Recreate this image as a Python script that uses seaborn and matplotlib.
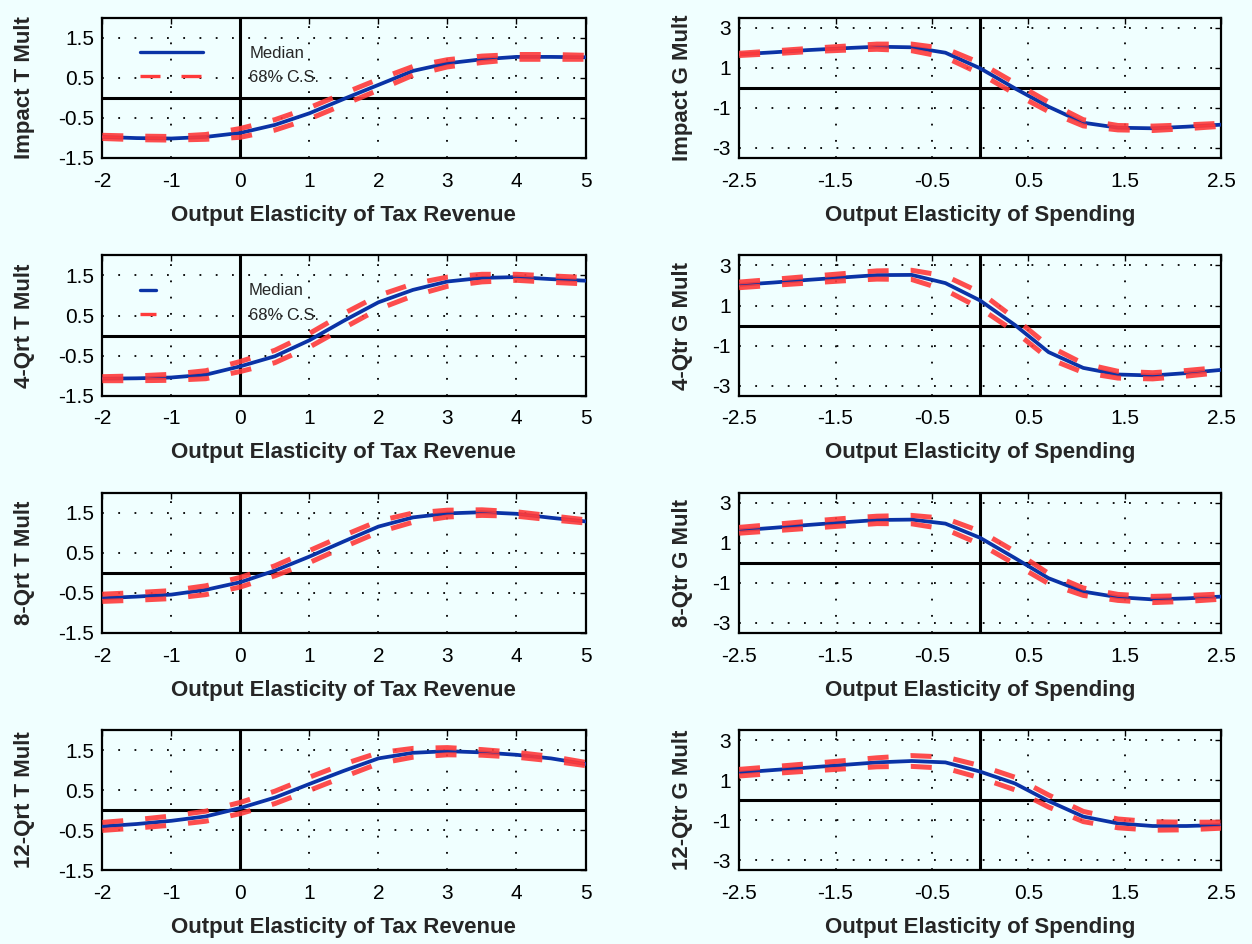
import numpy as np
import pandas as pd
import matplotlib
matplotlib.use("Agg")
import matplotlib.pyplot as plt
import seaborn as sns
from matplotlib.lines import Line2D

# ---------------- data ----------------
tax_elast = [-2.0, -1.5, -1.0, -0.5, 0.0, 0.5, 1.0, 1.5, 2.0, 2.5, 3.0, 3.5, 4.0, 4.5, 5.0]
spend_elast = [-2.5, -2.14, -1.79, -1.43, -1.07, -0.71, -0.36, 0.0, 0.36, 0.71, 1.07, 1.43, 1.79, 2.14, 2.5]

t_impact_med = [-0.98, -1.01, -1.02, -0.98, -0.88, -0.68, -0.39, -0.03, 0.32, 0.67, 0.86, 0.96, 1.02, 1.02, 1.01]
t_impact_up = [-0.94, -0.96, -0.97, -0.92, -0.77, -0.55, -0.25, 0.11, 0.46, 0.78, 0.95, 1.04, 1.08, 1.08, 1.06]
t_impact_lo = [-1.02, -1.05, -1.06, -1.04, -0.99, -0.81, -0.53, -0.17, 0.19, 0.56, 0.77, 0.88, 0.96, 0.96, 0.96]

t_4q_med = [-1.08, -1.07, -1.05, -0.98, -0.77, -0.52, -0.12, 0.37, 0.83, 1.14, 1.35, 1.44, 1.46, 1.41, 1.37]
t_4q_up = [-1.03, -1.01, -0.97, -0.88, -0.65, -0.37, 0.05, 0.55, 1.00, 1.29, 1.46, 1.53, 1.53, 1.49, 1.45]
t_4q_lo = [-1.13, -1.13, -1.12, -1.08, -0.90, -0.68, -0.29, 0.19, 0.66, 0.99, 1.23, 1.34, 1.38, 1.33, 1.29]

t_8q_med = [-0.63, -0.59, -0.54, -0.42, -0.23, 0.06, 0.41, 0.79, 1.16, 1.39, 1.49, 1.52, 1.48, 1.38, 1.29]
t_8q_up = [-0.53, -0.49, -0.44, -0.32, -0.11, 0.18, 0.56, 0.94, 1.30, 1.50, 1.57, 1.58, 1.53, 1.43, 1.33]
t_8q_lo = [-0.71, -0.68, -0.64, -0.54, -0.35, -0.07, 0.26, 0.65, 1.02, 1.27, 1.40, 1.44, 1.42, 1.33, 1.25]

t_12q_med = [-0.41, -0.35, -0.27, -0.16, 0.05, 0.31, 0.65, 0.98, 1.29, 1.43, 1.47, 1.44, 1.38, 1.29, 1.15]
t_12q_up = [-0.31, -0.24, -0.15, -0.03, 0.19, 0.47, 0.82, 1.15, 1.43, 1.54, 1.56, 1.51, 1.44, 1.34, 1.19]
t_12q_lo = [-0.51, -0.45, -0.38, -0.28, -0.09, 0.16, 0.49, 0.83, 1.16, 1.32, 1.38, 1.37, 1.32, 1.23, 1.11]

g_impact_med = [1.67, 1.77, 1.88, 1.97, 2.05, 2.02, 1.75, 0.97, -0.03, -0.95, -1.75, -2.00, -2.03, -1.95, -1.85]
g_impact_up = [1.72, 1.84, 1.96, 2.07, 2.18, 2.18, 1.96, 1.24, 0.24, -0.72, -1.60, -1.89, -1.92, -1.86, -1.78]
g_impact_lo = [1.61, 1.70, 1.80, 1.87, 1.92, 1.85, 1.52, 0.70, -0.30, -1.19, -1.91, -2.11, -2.14, -2.05, -1.93]

g_4q_med = [2.03, 2.15, 2.28, 2.40, 2.52, 2.53, 2.12, 1.25, 0.03, -1.33, -2.12, -2.45, -2.50, -2.38, -2.22]
g_4q_up = [2.17, 2.31, 2.45, 2.59, 2.73, 2.76, 2.48, 1.66, 0.36, -1.02, -1.90, -2.29, -2.36, -2.25, -2.09]
g_4q_lo = [1.89, 2.01, 2.12, 2.23, 2.32, 2.30, 1.77, 0.86, -0.30, -1.65, -2.35, -2.63, -2.67, -2.53, -2.35]

g_8q_med = [1.63, 1.76, 1.90, 2.03, 2.15, 2.17, 1.97, 1.26, 0.25, -0.76, -1.43, -1.71, -1.82, -1.77, -1.68]
g_8q_up = [1.78, 1.93, 2.08, 2.22, 2.34, 2.38, 2.23, 1.59, 0.58, -0.52, -1.25, -1.57, -1.67, -1.63, -1.55]
g_8q_lo = [1.49, 1.61, 1.73, 1.85, 1.97, 1.96, 1.69, 0.94, -0.05, -1.03, -1.62, -1.87, -1.98, -1.92, -1.81]

g_12q_med = [1.37, 1.50, 1.62, 1.75, 1.88, 1.95, 1.88, 1.42, 0.83, -0.05, -0.83, -1.17, -1.30, -1.30, -1.25]
g_12q_up = [1.53, 1.67, 1.81, 1.96, 2.11, 2.22, 2.15, 1.72, 1.14, 0.25, -0.57, -0.95, -1.09, -1.11, -1.11]
g_12q_lo = [1.20, 1.33, 1.44, 1.55, 1.66, 1.68, 1.59, 1.11, 0.51, -0.35, -1.08, -1.39, -1.51, -1.49, -1.41]

t_ylabels = ["Impact T Mult", "4-Qrt T Mult", "8-Qrt T Mult", "12-Qrt T Mult"]
g_ylabels = ["Impact G Mult", "4-Qtr G Mult", "8-Qtr G Mult", "12-Qtr G Mult"]
t_xlabel = "Output Elasticity of Tax Revenue"
g_xlabel = "Output Elasticity of Spending"
legend_labels = ["Median", "68% C.S."]

t_xticks = [-2, -1, 0, 1, 2, 3, 4, 5]
t_yticks = [-1.5, -0.5, 0.5, 1.5]
g_xticks = [-2.5, -1.5, -0.5, 0.5, 1.5, 2.5]
g_yticks = [-3, -1, 1, 3]

t_series = [(t_impact_med, t_impact_up, t_impact_lo), (t_4q_med, t_4q_up, t_4q_lo),
            (t_8q_med, t_8q_up, t_8q_lo), (t_12q_med, t_12q_up, t_12q_lo)]
g_series = [(g_impact_med, g_impact_up, g_impact_lo), (g_4q_med, g_4q_up, g_4q_lo),
            (g_8q_med, g_8q_up, g_8q_lo), (g_12q_med, g_12q_up, g_12q_lo)]

# ---------------- style ----------------
sns.set_style("white")
plt.rcParams['font.family'] = ['Liberation Sans', 'DejaVu Sans']
BG = "#F0FFFF"
BLUE = "#0A33A6"
RED = "#FF3A3A"

W, H = 1252, 944
fig = plt.figure(figsize=(W / 100, H / 100), dpi=100, facecolor=BG)

row_bottoms = [157.7, 395.5, 633.0, 870.0]
ax_h = 140.0
left_x, left_w = 102.3, 483.2
right_x, right_w = 739.1, 482.0

GRID_LS = (0, (1, 8))
RED_DASH = (0, (4.2, 4.4))


def style_axes(ax, xlim, ylim, xticks, yticks, xticklabels, yticklabels, xlabel, ylabel, ylab_off):
    ax.set_facecolor(BG)
    ax.set_xlim(*xlim)
    ax.set_ylim(*ylim)
    ax.set_xticks(xticks)
    ax.set_yticks(yticks)
    ax.set_xticklabels(xticklabels)
    ax.set_yticklabels(yticklabels)
    ax.grid(True, color="black", linestyle=GRID_LS, linewidth=1.3)
    ax.tick_params(direction="in", length=4, width=1, top=True, right=True,
                   labelsize=15, colors="black")
    ax.tick_params(axis="x", pad=10)
    ax.tick_params(axis="y", pad=6)
    for sp in ax.spines.values():
        sp.set_visible(True)
        sp.set_color("black")
        sp.set_linewidth(1.6)
    ax.axhline(0, color="black", lw=2.2, zorder=1.5)
    ax.axvline(0, color="black", lw=2.2, zorder=1.5)
    ax.set_xlabel(xlabel, fontsize=16, fontweight="bold", va="center")
    ax.set_ylabel(ylabel, fontsize=16, fontweight="bold", va="center")
    ax.xaxis.set_label_coords(0.5, -0.41)
    ax.yaxis.set_label_coords(ylab_off, 0.5)


def draw_series(ax, x, med, up, lo):
    sns.lineplot(x=x, y=med, ax=ax, color=BLUE, lw=2.7, zorder=3)
    for band in (up, lo):
        sns.lineplot(x=x, y=band, ax=ax, color=RED, lw=3.6, alpha=0.9, zorder=4)
        ax.lines[-1].set_linestyle(RED_DASH)


def fmt(v):
    return ("%g" % v)


for i in range(4):
    yb = (H - row_bottoms[i]) / H
    axl = fig.add_axes([left_x / W, yb, left_w / W, ax_h / H])
    axr = fig.add_axes([right_x / W, yb, right_w / W, ax_h / H])

    med, up, lo = t_series[i]
    draw_series(axl, tax_elast, med, up, lo)
    style_axes(axl, (-2, 5), (-1.5, 2.0), t_xticks, t_yticks,
               [fmt(v) for v in t_xticks], [fmt(v) for v in t_yticks],
               t_xlabel, t_ylabels[i], -0.162)

    med, up, lo = g_series[i]
    draw_series(axr, spend_elast, med, up, lo)
    style_axes(axr, (-2.5, 2.5), (-3.5, 3.5), g_xticks, g_yticks,
               [fmt(v) for v in g_xticks], [fmt(v) for v in g_yticks],
               g_xlabel, g_ylabels[i], -0.118)

    if i < 2:
        handles = [Line2D([], [], color=BLUE, lw=2.4),
                   Line2D([], [], color=RED, lw=2.4, linestyle=(0, (6.0, 6.3)))]
        hl = 3.78 if i == 0 else 1.0
        pad = 2.8 if i == 0 else 5.55
        axl.legend(handles, legend_labels, loc="upper left",
                   bbox_to_anchor=((139.7 - left_x) / left_w, 0.80),
                   frameon=False, fontsize=12, handlelength=hl,
                   handletextpad=pad, labelspacing=0.55,
                   borderpad=0, borderaxespad=0)

fig.savefig("out.png", dpi=100, facecolor=BG)
